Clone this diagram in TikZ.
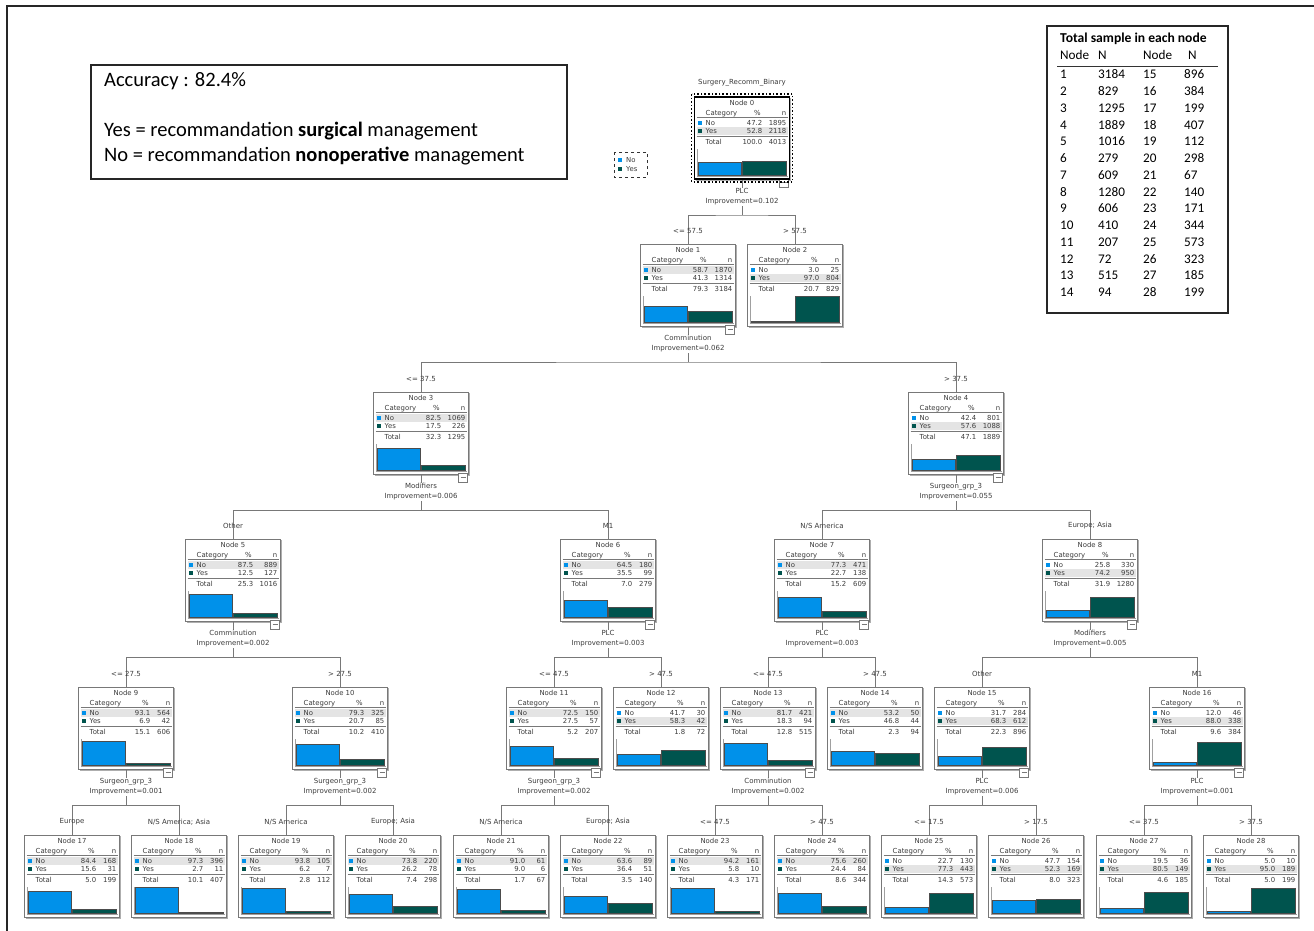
\documentclass[tikz,border=0pt]{standalone}
\usepackage{fontspec}
\setmainfont{DejaVu Sans}
\newfontfamily\calfont{Carlito}
\usetikzlibrary{calc}
\definecolor{noblue}{RGB}{0,145,234}
\definecolor{yesteal}{RGB}{0,84,78}
\definecolor{hlgray}{RGB}{228,228,228}
\definecolor{txt}{RGB}{60,60,60}
\definecolor{bord}{RGB}{120,120,120}
\tikzset{
  tbox/.style={draw=bord, line width=0.9pt, minimum width=95pt, minimum height=82pt, inner sep=0pt, outer sep=0pt, fill=white},
  ttext/.style={font=\fontsize{6.9}{7.5}\selectfont, text=txt, inner sep=0pt},
  conn/.style={draw=bord, line width=0.8pt},
  slabel/.style={ttext, align=center, fill=white, inner sep=1pt, font=\fontsize{7}{10}\selectfont},
  elabel/.style={ttext, font=\fontsize{7}{8}\selectfont},
  barl/.style={draw=black!70, line width=0.6pt},
  minusb/.style={draw=bord, line width=0.7pt, minimum size=9pt, inner sep=0pt, fill=white},
  bigt/.style={font=\calfont\fontsize{20.5}{22}\selectfont, inner sep=0pt, anchor=mid west},
  tabt/.style={font=\calfont\fontsize{13.2}{15}\selectfont, inner sep=0pt, anchor=mid west},
}
% name, cx, top, number, pNo, nNo, pYes, nYes, pTot
\newcommand\tnode[9]{%
  \node[tbox] (#1) at (#2,#3+41) {};
  \draw[bord!60, line width=0.8pt] ($(#1.north east)+(1.2,1)$) -- ($(#1.south east)+(1.2,1.2)$) -- ($(#1.south west)+(1,1.2)$);
  \begin{scope}[shift={(#1.north west)}]
    \ifdim #5pt>#7pt
      \fill[hlgray] (2,22) rectangle (93,30);
    \else
      \fill[hlgray] (2,30) rectangle (93,38);
    \fi
    \ifnum\numexpr#6+#8\relax>999 \def\pc{68}\else\def\pc{72}\fi
    \node[ttext] (#1-ti) at (47.5,6) {Node #4};
    \node[ttext, anchor=mid west] (#1-hc) at (11,15.5) {Category};
    \node[ttext] (#1-hp) at (\pc-5,15.5) {\%};
    \node[ttext, anchor=mid east] (#1-hn) at (92,15.5) {n};
    \draw[bord, line width=0.5pt] (2,20) -- (93,20);
    \fill[noblue] (3,24) rectangle (7,28);
    \node[ttext, anchor=mid west] (#1-c1) at (11,26) {No};
    \node[ttext, anchor=mid east] (#1-p1) at (\pc,26) {#5};
    \node[ttext, anchor=mid east] (#1-n1) at (92,26) {#6};
    \fill[yesteal] (3,32) rectangle (7,36);
    \node[ttext, anchor=mid west] (#1-c2) at (11,34) {Yes};
    \node[ttext, anchor=mid east] (#1-p2) at (\pc,34) {#7};
    \node[ttext, anchor=mid east] (#1-n2) at (92,34) {#8};
    \draw[bord, line width=0.5pt] (2,39) -- (93,39);
    \node[ttext, anchor=mid west] (#1-c3) at (11,45) {Total};
    \node[ttext, anchor=mid east] (#1-p3) at (\pc,45) {#9};
    \node[ttext, anchor=mid east] (#1-n3) at (92,45) {\the\numexpr#6+#8\relax};
    \draw[bord!70, line width=0.7pt] (3,52) -- (3,79) -- (93,79);
    \draw[barl, fill=noblue] (4,78) rectangle (47,{78-0.26*#5});
    \draw[barl, fill=yesteal] (48,78) rectangle (92,{78-0.26*#7});
  \end{scope}}
% parent, variable, improvement, child1, label1, child2, label2
\newcommand\tsplit[7]{%
  \coordinate (#1-b) at ($(#1.south)+(0,36)$);
  \draw[conn] (#1.south) -- (#1-b);
  \draw[conn] (#4.north) |- (#1-b) -| (#6.north);
  \node[slabel] (#1-s) at ($(#1.south)+(0,18)$) {#2\\#3};
  \node[elabel] (#4-e) at ($(#4.north)+(0,-13)$) {#5};
  \node[elabel] (#6-e) at ($(#6.north)+(0,-13)$) {#7};
  \begin{scope}[shift={(#1.north west)}]
    \node[minusb] (#1-m) at (89.5,85.5) {};
    \draw[bord, line width=0.6pt] (87,85.5) -- (92,85.5);
  \end{scope}}
\begin{document}
\begin{tikzpicture}[x=1pt,y=-1pt]
\useasboundingbox (0,0) rectangle (1314,930);
\fill[white] (0,0) rectangle (1314,930);
% outer frame
\draw[line width=1.6pt, black!85] (7,940) -- (7,6) -- (1320,6);

% tree nodes
\tnode{n0}{742}{97}{0}{47.2}{1895}{52.8}{2118}{100.0}
\tnode{n1}{688}{244}{1}{58.7}{1870}{41.3}{1314}{79.3}
\tnode{n2}{795}{244}{2}{3.0}{25}{97.0}{804}{20.7}
\tnode{n3}{421}{392}{3}{82.5}{1069}{17.5}{226}{32.3}
\tnode{n4}{956}{392}{4}{42.4}{801}{57.6}{1088}{47.1}
\tnode{n5}{233}{539}{5}{87.5}{889}{12.5}{127}{25.3}
\tnode{n6}{608}{539}{6}{64.5}{180}{35.5}{99}{7.0}
\tnode{n7}{822}{539}{7}{77.3}{471}{22.7}{138}{15.2}
\tnode{n8}{1090}{539}{8}{25.8}{330}{74.2}{950}{31.9}
\tnode{n9}{126}{687}{9}{93.1}{564}{6.9}{42}{15.1}
\tnode{n10}{340}{687}{10}{79.3}{325}{20.7}{85}{10.2}
\tnode{n11}{554}{687}{11}{72.5}{150}{27.5}{57}{5.2}
\tnode{n12}{661}{687}{12}{41.7}{30}{58.3}{42}{1.8}
\tnode{n13}{768}{687}{13}{81.7}{421}{18.3}{94}{12.8}
\tnode{n14}{875}{687}{14}{53.2}{50}{46.8}{44}{2.3}
\tnode{n15}{982}{687}{15}{31.7}{284}{68.3}{612}{22.3}
\tnode{n16}{1197}{687}{16}{12.0}{46}{88.0}{338}{9.6}
\tnode{n17}{72}{835}{17}{84.4}{168}{15.6}{31}{5.0}
\tnode{n18}{179}{835}{18}{97.3}{396}{2.7}{11}{10.1}
\tnode{n19}{286}{835}{19}{93.8}{105}{6.2}{7}{2.8}
\tnode{n20}{393}{835}{20}{73.8}{220}{26.2}{78}{7.4}
\tnode{n21}{501}{835}{21}{91.0}{61}{9.0}{6}{1.7}
\tnode{n22}{608}{835}{22}{63.6}{89}{36.4}{51}{3.5}
\tnode{n23}{715}{835}{23}{94.2}{161}{5.8}{10}{4.3}
\tnode{n24}{822}{835}{24}{75.6}{260}{24.4}{84}{8.6}
\tnode{n25}{929}{835}{25}{22.7}{130}{77.3}{443}{14.3}
\tnode{n26}{1036}{835}{26}{47.7}{154}{52.3}{169}{8.0}
\tnode{n27}{1144}{835}{27}{19.5}{36}{80.5}{149}{4.6}
\tnode{n28}{1251}{835}{28}{5.0}{10}{95.0}{189}{5.0}

% splits
\tsplit{n0}{PLC}{Improvement=0.102}{n1}{<= 57.5}{n2}{> 57.5}
\tsplit{n1}{Comminution}{Improvement=0.062}{n3}{<= 37.5}{n4}{> 37.5}
\tsplit{n3}{Modifiers}{Improvement=0.006}{n5}{Other}{n6}{M1}
\tsplit{n4}{Surgeon\_grp\_3}{Improvement=0.055}{n7}{N/S America}{n8}{Europe; Asia}
\tsplit{n5}{Comminution}{Improvement=0.002}{n9}{<= 27.5}{n10}{> 27.5}
\tsplit{n6}{PLC}{Improvement=0.003}{n11}{<= 47.5}{n12}{> 47.5}
\tsplit{n7}{PLC}{Improvement=0.003}{n13}{<= 47.5}{n14}{> 47.5}
\tsplit{n8}{Modifiers}{Improvement=0.005}{n15}{Other}{n16}{M1}
\tsplit{n9}{Surgeon\_grp\_3}{Improvement=0.001}{n17}{Europe}{n18}{N/S America; Asia}
\tsplit{n10}{Surgeon\_grp\_3}{Improvement=0.002}{n19}{N/S America}{n20}{Europe; Asia}
\tsplit{n11}{Surgeon\_grp\_3}{Improvement=0.002}{n21}{N/S America}{n22}{Europe; Asia}
\tsplit{n13}{Comminution}{Improvement=0.002}{n23}{<= 47.5}{n24}{> 47.5}
\tsplit{n15}{PLC}{Improvement=0.006}{n25}{<= 17.5}{n26}{> 17.5}
\tsplit{n16}{PLC}{Improvement=0.001}{n27}{<= 37.5}{n28}{> 37.5}

% root emphasis
\draw[black, line width=1.6pt] (n0.north west) rectangle (n0.south east);
\draw[black, line width=1.6pt, dotted] ($(n0.north west)+(-3,-3)$) rectangle ($(n0.south east)+(3,3)$);
\node[elabel] (root) at (742,83) {Surgery\_Recomm\_Binary};

% legend
\draw[black!80, line width=1pt, dashed] (614,152) rectangle (647,177);
\fill[noblue] (618,158) rectangle (622,162);
\node[ttext, anchor=mid west] (lgno) at (626,160) {No};
\fill[yesteal] (618,167) rectangle (622,171);
\node[ttext, anchor=mid west] (lgyes) at (626,169) {Yes};

% accuracy box
\draw[black!85, line width=1.2pt] (91,65) rectangle (567,179);
\node[bigt] (acc) at (104,84) {Accuracy : 82.4\%};
\node[bigt] (acc2) at (104,134) {Yes = recommandation \textbf{surgical} management};
\node[bigt] (acc3) at (104,159) {No = recommandation \textbf{nonoperative} management};

% table
\draw[black!85, line width=1.4pt] (1047,26) rectangle (1228,313);
\node[tabt, font=\calfont\bfseries\fontsize{13.6}{15}\selectfont] (tt) at (1060,40) {Total sample in each node};
\node[tabt] (th1) at (1060,57) {Node};
\node[tabt] (th2) at (1098,57) {N};
\node[tabt] (th3) at (1143,57) {Node};
\node[tabt] (th4) at (1188,57) {N};
\draw[black!80, line width=1pt] (1057,66) -- (1218,66);
\foreach \a/\b/\c/\d [count=\i] in {1/3184/15/896, 2/829/16/384, 3/1295/17/199, 4/1889/18/407, 5/1016/19/112, 6/279/20/298, 7/609/21/67, 8/1280/22/140, 9/606/23/171, 10/410/24/344, 11/207/25/573, 12/72/26/323, 13/515/27/185, 14/94/28/199}{
  \node[tabt] (ra\i) at (1060,{76+16.77*(\i-1)}) {\a};
  \node[tabt] (rb\i) at (1098,{76+16.77*(\i-1)}) {\b};
  \node[tabt] (rc\i) at (1143,{76+16.77*(\i-1)}) {\c};
  \node[tabt] (rd\i) at (1184,{76+16.77*(\i-1)}) {\d};
}
\end{tikzpicture}
\end{document}
